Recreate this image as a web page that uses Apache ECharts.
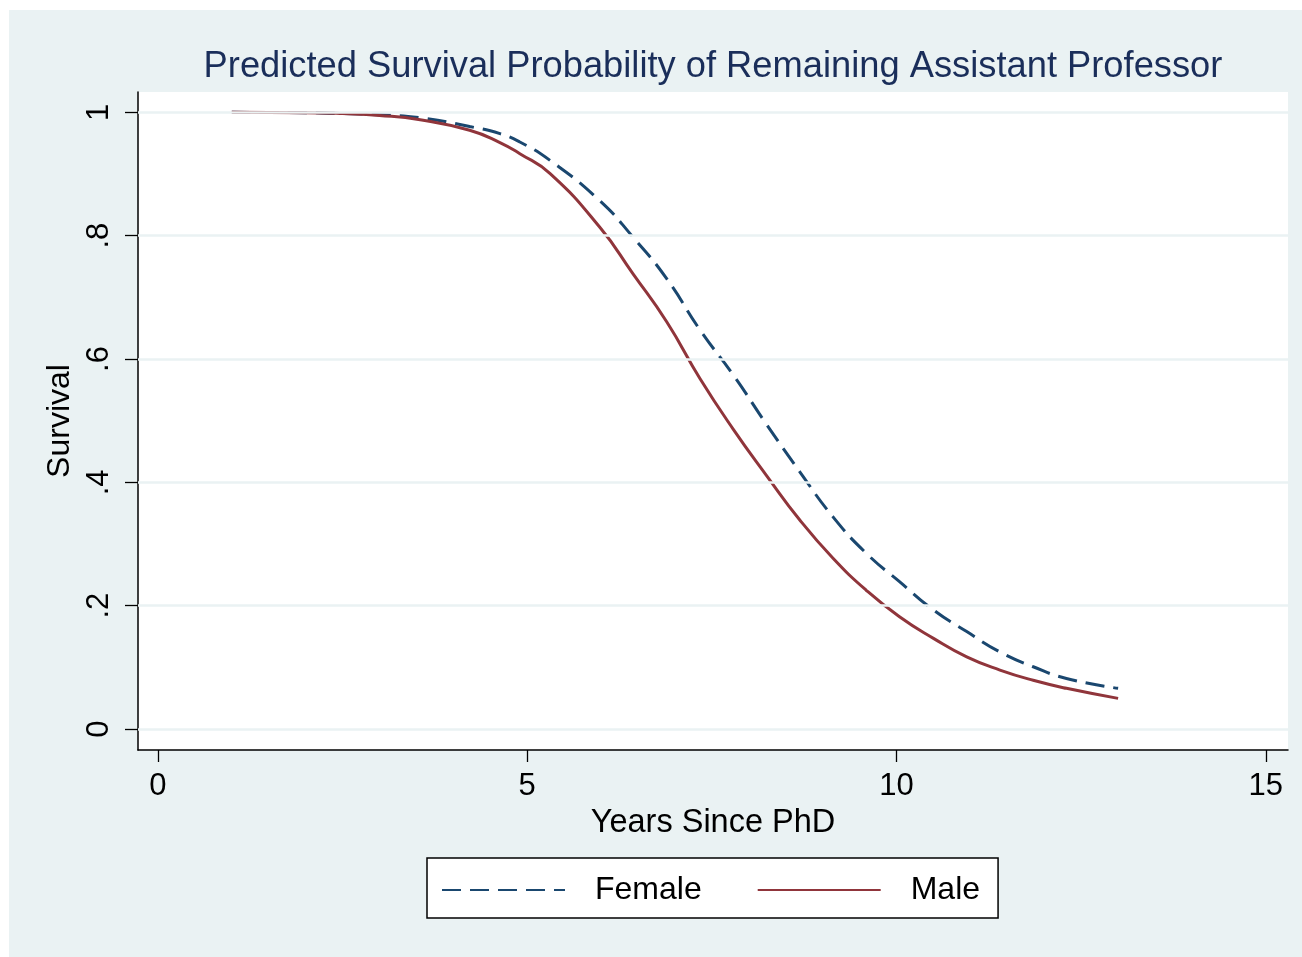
<!DOCTYPE html>
<html>
<head>
    <meta charset="utf-8">
    <title>Predicted Survival Probability</title>
    <script src="https://cdn.jsdelivr.net/npm/echarts@6/dist/echarts.min.js"></script>
    <style>
        html, body { margin: 0; padding: 0; background: #ffffff; }
        #main { position: absolute; left: 9px; top: 10px; width: 1293px; height: 947px; }
    </style>
</head>
<body>
<div id="main"></div>
<script>
    // values
    var years = [1, 2, 2.5, 3, 3.55, 4.22, 4.63, 4.9, 5.31, 5.98, 6.43, 6.89, 7.34, 7.79, 8.24, 8.69, 9.14, 9.59, 10.04, 10.5, 10.95, 11.4, 11.85, 12.3, 13];
    var femaleSurv = [1, 0.9995, 0.998, 0.996, 0.9914, 0.977, 0.9655, 0.952, 0.922, 0.857, 0.798, 0.73, 0.647, 0.574, 0.494, 0.417, 0.344, 0.285, 0.239, 0.193, 0.158, 0.125, 0.101, 0.082, 0.066];
    var maleSurv = [1, 0.9995, 0.998, 0.995, 0.988, 0.971, 0.951, 0.933, 0.9006, 0.814, 0.7385, 0.66, 0.568, 0.486, 0.411, 0.339, 0.277, 0.225, 0.182, 0.147, 0.117, 0.0956, 0.079, 0.066, 0.0497];
    var xTicks = [0, 5, 10, 15];
    var yTicks = [0, 0.2, 0.4, 0.6, 0.8, 1];
    var yTickLabels = ['0', '.2', '.4', '.6', '.8', '1'];

    var font = 'Liberation Sans';
    var chart = echarts.init(document.getElementById('main'));

    function pairs(ys) {
        return years.map(function (x, i) { return [x, ys[i]]; });
    }

    var option = {
        backgroundColor: '#eaf2f3',
        animation: false,
        title: {
            text: 'Predicted Survival Probability of Remaining Assistant Professor',
            left: 699,
            textAlign: 'center',
            top: 34,
            textStyle: { fontFamily: font, fontSize: 36.3, fontWeight: 'normal', color: '#1a2e5a', lineHeight: 36 }
        },
        legend: {
            left: 418,
            top: 848,
            padding: [16, 18, 12, 14],
            itemGap: 55,
            itemWidth: 123,
            itemHeight: 14,
            itemStyle: { opacity: 0 },
            backgroundColor: '#ffffff',
            borderColor: '#000000',
            borderWidth: 1.5,
            borderRadius: 0,
            textStyle: { fontFamily: font, fontSize: 32, color: '#000000', padding: [0, 0, 0, 25], lineHeight: 32 },
            data: ['Female', 'Male']
        },
        grid: {
            left: 129,
            top: 82,
            width: 1150,
            height: 658,
            show: true,
            backgroundColor: '#ffffff',
            borderWidth: 0
        },
        xAxis: {
            type: 'value',
            min: -0.27,
            max: 15.3,
            name: 'Years Since PhD',
            nameLocation: 'middle',
            nameGap: 56,
            nameTextStyle: { fontFamily: font, fontSize: 32.5, color: '#000000' },
            axisLine: { onZero: false, lineStyle: { color: '#000000', width: 1.5 } },
            axisTick: { customValues: xTicks, length: 12, lineStyle: { color: '#000000', width: 1.3 } },
            axisLabel: { customValues: xTicks, margin: 21, fontFamily: font, fontSize: 31, color: '#000000' },
            splitLine: { show: false }
        },
        yAxis: {
            type: 'value',
            min: -0.034,
            max: 1.033,
            name: 'Survival',
            nameLocation: 'middle',
            nameGap: 60,
            nameTextStyle: { fontFamily: font, fontSize: 32, color: '#000000' },
            axisLine: { onZero: false, lineStyle: { color: '#000000', width: 1.5 } },
            axisTick: { customValues: yTicks, length: 13, lineStyle: { color: '#000000', width: 1.3 } },
            axisLabel: {
                customValues: yTicks,
                rotate: 90,
                margin: 23,
                fontFamily: font,
                fontSize: 31,
                color: '#000000',
                formatter: function (v) {
                    var i = yTicks.indexOf(v);
                    return i >= 0 ? yTickLabels[i] : '';
                }
            },
            splitLine: { show: false }
        },
        series: [
            {
                name: 'grid',
                type: 'line',
                data: [],
                z: 1,
                markLine: {
                    silent: true,
                    symbol: 'none',
                    animation: false,
                    label: { show: false },
                    lineStyle: { color: '#eaf2f3', width: 2.5, type: 'solid' },
                    emphasis: { disabled: true },
                    data: yTicks.map(function (v) { return { yAxis: v }; })
                }
            },
            {
                name: 'Female',
                type: 'line',
                z: 3,
                data: pairs(femaleSurv),
                symbol: 'none',
                smooth: 0.5,
                color: '#1a476f',
                lineStyle: { color: '#1a476f', width: 3, type: [19, 9] }
            },
            {
                name: 'Male',
                type: 'line',
                z: 4,
                data: pairs(maleSurv),
                symbol: 'none',
                smooth: 0.5,
                color: '#90353b',
                lineStyle: { color: '#90353b', width: 3 }
            }
        ]
    };

    chart.setOption(option);
</script>
</body>
</html>
